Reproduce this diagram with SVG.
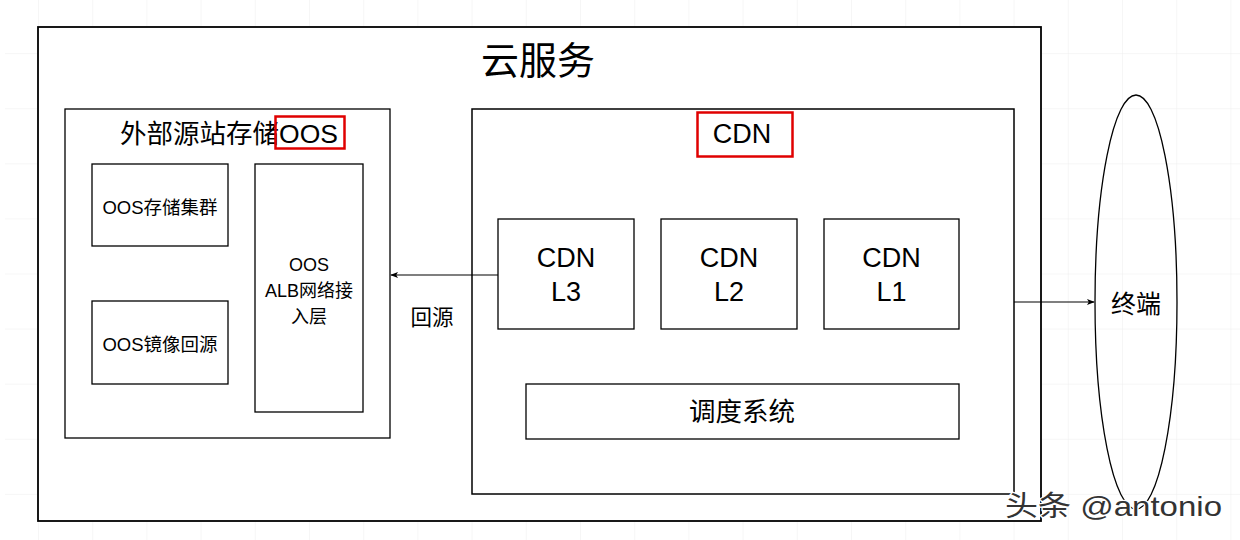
<svg xmlns="http://www.w3.org/2000/svg" width="1240" height="540" viewBox="0 0 1240 540">
<defs>
<pattern id="grid" x="38" y="-2" width="54.2" height="55.1" patternUnits="userSpaceOnUse">
<path d="M0 0V55.1M0 0H54.2" fill="none" stroke="#eeeeee" stroke-width="1"/>
</pattern>
<marker id="arr" viewBox="0 0 10 10" refX="9" refY="5" markerWidth="8" markerHeight="8" markerUnits="userSpaceOnUse" orient="auto">
<path d="M0 1L10 5L0 9L2.5 5Z" fill="#000"/>
</marker>
<style>
.box{fill:#fff;stroke:#000;stroke-width:1.3}
.red{fill:none;stroke:#e00000;stroke-width:2.5}
.t{font-family:"Liberation Sans","Noto Sans CJK SC",sans-serif;fill:#000;text-anchor:middle}
.edge{fill:none;stroke:#000;stroke-width:1.2}
</style>
</defs>
<rect x="0" y="0" width="1240" height="540" fill="#fff"/>
<rect x="5" y="0" width="1235" height="540" fill="url(#grid)"/>

<g id="cloud">
<rect x="38" y="27" width="1003" height="494" fill="#fff" stroke="#000" stroke-width="1.8"/>
<text class="t" x="538" y="74" font-size="38">云服务</text>
</g>

<g id="oos">
<rect class="box" x="65" y="109" width="325" height="329"/>
<text class="t" x="229" y="143" font-size="26.5">外部源站存储OOS</text>
<rect class="red" x="275.5" y="116.5" width="69" height="32"/>
</g>

<g id="oos-cluster">
<rect class="box" x="92" y="164" width="136" height="82"/>
<text class="t" x="160" y="214" font-size="18.5">OOS存储集群</text>
</g>

<g id="oos-mirror">
<rect class="box" x="92" y="301" width="136" height="83"/>
<text class="t" x="160" y="351" font-size="18.5">OOS镜像回源</text>
</g>

<g id="oos-alb">
<rect class="box" x="255" y="164" width="108" height="248"/>
<text class="t" x="309" y="271" font-size="18">OOS</text>
<text class="t" x="309" y="297" font-size="18">ALB网络接</text>
<text class="t" x="309" y="323" font-size="18">入层</text>
</g>

<g id="cdn">
<rect fill="#fff" stroke="#000" stroke-width="1.5" x="472" y="109" width="542" height="385"/>
<text class="t" x="742" y="143" font-size="27">CDN</text>
<rect class="red" x="697.5" y="112.5" width="95" height="44"/>
</g>

<g id="cdn-l3">
<rect class="box" x="498" y="219" width="136" height="110"/>
<text class="t" x="566" y="267" font-size="27">CDN</text>
<text class="t" x="566" y="301" font-size="27">L3</text>
</g>

<g id="cdn-l2">
<rect class="box" x="661" y="219" width="136" height="110"/>
<text class="t" x="729" y="267" font-size="27">CDN</text>
<text class="t" x="729" y="301" font-size="27">L2</text>
</g>

<g id="cdn-l1">
<rect class="box" x="824" y="219" width="135" height="110"/>
<text class="t" x="891.5" y="267" font-size="27">CDN</text>
<text class="t" x="891.5" y="301" font-size="27">L1</text>
</g>

<g id="scheduler">
<rect class="box" x="526" y="384" width="433" height="55"/>
<text class="t" x="742" y="421" font-size="26.5">调度系统</text>
</g>

<g id="terminal">
<ellipse cx="1136" cy="302" rx="41" ry="207" fill="none" stroke="#000" stroke-width="1.3"/>
<text class="t" x="1136" y="313" font-size="25">终端</text>
</g>

<g id="connectors">
<line class="edge" x1="498" y1="275" x2="391" y2="275" marker-end="url(#arr)"/>
<text class="t" x="432" y="325" font-size="21.5">回源</text>
<line class="edge" x1="1014" y1="302" x2="1094" y2="302" marker-end="url(#arr)"/>
</g>

<g id="watermark">
<text x="1005" y="516" font-family="'Liberation Sans','Noto Sans CJK SC',sans-serif" font-size="28" fill="#333" stroke="#fff" stroke-width="2.5" paint-order="stroke" textLength="217" lengthAdjust="spacingAndGlyphs">头条 @antonio</text>
</g>
</svg>
